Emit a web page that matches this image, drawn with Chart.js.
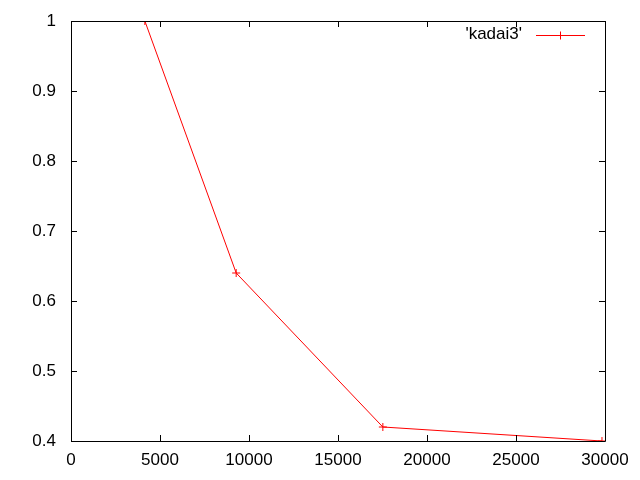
<!DOCTYPE html>
<html>
<head>
<meta charset="utf-8">
<script src="https://cdn.jsdelivr.net/npm/chart.js@4"></script>
<style>
html,body{margin:0;padding:0;background:#fff;}
#wrap{width:640px;height:480px;}
</style>
</head>
<body>
<div id="wrap"><canvas id="c" width="640" height="480"></canvas></div>
<script>
const seriesName = "'kadai3'";
const xValues = [4150, 9280, 17520, 29830];
const yValues = [1.0, 0.64, 0.42, 0.40];
const xTicks = [0, 5000, 10000, 15000, 20000, 25000, 30000];
const yTicks = [0.4, 0.5, 0.6, 0.7, 0.8, 0.9, 1];

const FONT = "Liberation Sans";
const RED = '#ff0000';

const points = xValues.map((x, i) => ({x: x, y: yValues[i]}));

const framePlugin = {
  id: 'frame',
  afterDraw(chart) {
    const ctx = chart.ctx;
    const a = chart.chartArea;
    const xs = chart.scales.x, ys = chart.scales.y;
    ctx.save();
    ctx.strokeStyle = '#000';
    ctx.lineWidth = 1;
    ctx.beginPath();
    ctx.rect(Math.round(a.left) + 0.5, Math.round(a.top) + 0.5, Math.round(a.right - a.left), Math.round(a.bottom - a.top));
    ctx.stroke();
    const L = 6;
    ctx.beginPath();
    xTicks.forEach(v => {
      const px = Math.round(xs.getPixelForValue(v)) + 0.5;
      ctx.moveTo(px, a.bottom); ctx.lineTo(px, a.bottom - L);
      ctx.moveTo(px, a.top); ctx.lineTo(px, a.top + L);
    });
    yTicks.forEach(v => {
      const py = Math.round(ys.getPixelForValue(v)) + 0.5;
      ctx.moveTo(a.left, py); ctx.lineTo(a.left + L, py);
      ctx.moveTo(a.right, py); ctx.lineTo(a.right - L, py);
    });
    ctx.stroke();
    // legend
    const ly = 35.5;
    ctx.fillStyle = '#000';
    ctx.font = '17px "' + FONT + '"';
    ctx.textAlign = 'right';
    ctx.textBaseline = 'middle';
    ctx.fillText(seriesName, 522, 34);
    ctx.strokeStyle = RED;
    ctx.beginPath();
    ctx.moveTo(536, ly); ctx.lineTo(585, ly);
    ctx.moveTo(560.5, ly - 4); ctx.lineTo(560.5, ly + 4);
    ctx.stroke();
    ctx.restore();
  }
};

new Chart(document.getElementById('c'), {
  type: 'line',
  data: {
    datasets: [{
      label: seriesName,
      data: points,
      borderColor: RED,
      backgroundColor: RED,
      borderWidth: 1,
      pointStyle: 'cross',
      pointRadius: 4,
      pointBorderWidth: 1,
      pointBorderColor: RED,
      tension: 0,
      fill: false
    }]
  },
  options: {
    responsive: false,
    animation: false,
    devicePixelRatio: 1,
    layout: {padding: {top: 21, right: 35, left: 0, bottom: 0}},
    plugins: {legend: {display: false}, tooltip: {enabled: false}},
    scales: {
      x: {
        type: 'linear',
        min: 0, max: 30000,
        afterBuildTicks(s) { s.ticks = xTicks.map(v => ({value: v})); },
        afterFit(s) { s.height = 39; s.paddingLeft = 0; s.paddingRight = 0; },
        grid: {display: false, drawTicks: false},
        border: {display: false},
        ticks: {
          color: '#000', font: {family: FONT, size: 17}, padding: 9,
          maxRotation: 0, autoSkip: false,
          callback: v => String(v)
        }
      },
      y: {
        type: 'linear',
        min: 0.4, max: 1,
        afterBuildTicks(s) { s.ticks = yTicks.map(v => ({value: v})); },
        afterFit(s) { s.width = 71; s.paddingTop = 0; s.paddingBottom = 0; },
        grid: {display: false, drawTicks: false},
        border: {display: false},
        ticks: {
          color: '#000', font: {family: FONT, size: 17}, padding: 15,
          autoSkip: false,
          callback: v => (Math.abs(v - 1) < 1e-9 ? '1' : v.toFixed(1))
        }
      }
    }
  },
  plugins: [framePlugin]
});
</script>
</body>
</html>
